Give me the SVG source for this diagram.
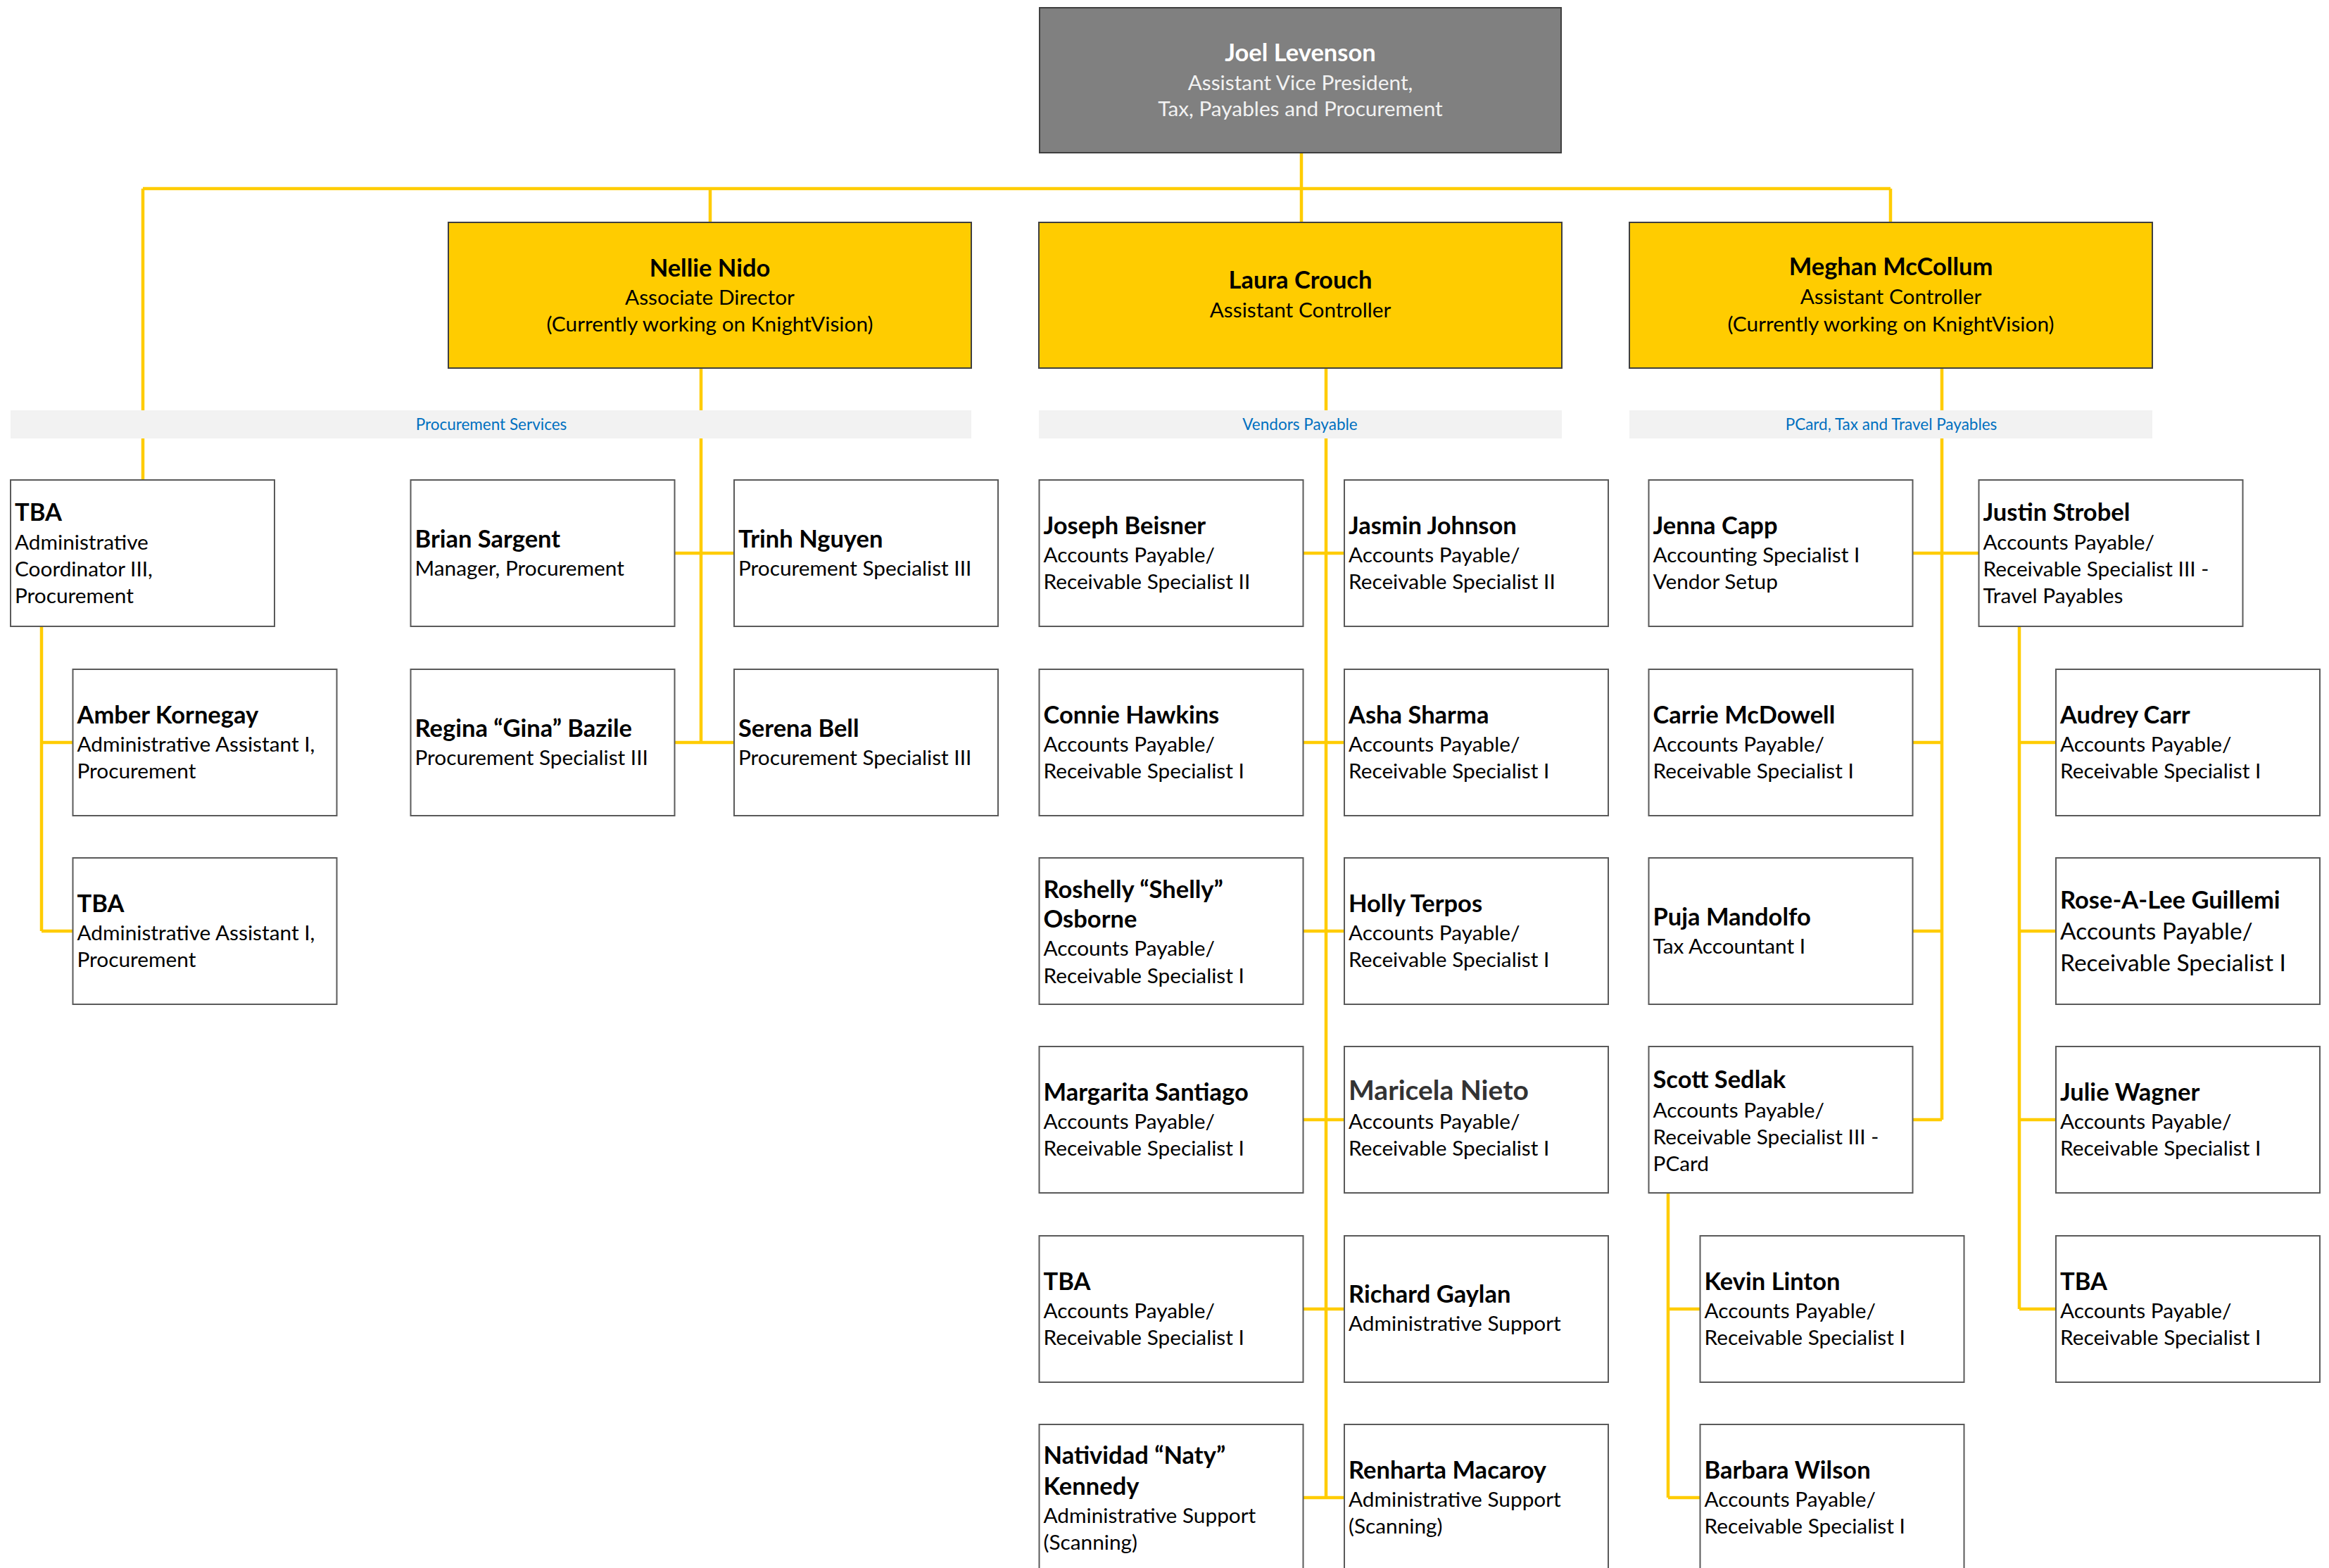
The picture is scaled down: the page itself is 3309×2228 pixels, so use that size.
<svg xmlns="http://www.w3.org/2000/svg" width="3309" height="2228" viewBox="0 0 3309 2228">
<style>
.bg{fill:#fff}
.box{fill:#fff;stroke:#5a5a5a;stroke-width:2}
.ybox{fill:#FFCC00;stroke:#3f3f3f;stroke-width:2}
.gbox{fill:#808080;stroke:#3f3f3f;stroke-width:2}
.band{fill:#F2F2F2}
.ln{stroke:#FFCC00;stroke-width:4.5;fill:none}
text{font-family:Lato,"Liberation Sans",sans-serif;fill:#000}
.n{font-weight:700;font-size:34.5px}
.t{font-size:29.8px}
.c{text-anchor:middle}
.w{fill:#fff}
.wt{fill:#f2f2f2}
.bt{font-size:22.5px;fill:#0070C0}
.big{font-size:33.5px}
.mn{font-size:39px;fill:#333}
</style>
<rect class="bg" x="0" y="0" width="3309" height="2228"/>
<g id="connectors">
<path class="ln" d="M1849 217V315M203 268H2686M203 268V682M1009 268V316M2686 268V315"/>
<path class="ln" d="M996 523V1055M959 786H1043M959 1055H1043"/>
<path class="ln" d="M59 891V1323M59 1055H103M59 1323H103"/>
<path class="ln" d="M1884 523V2128M1852 786H1910M1852 1055H1910M1852 1323H1910M1852 1591H1910M1852 1860H1910M1852 2128H1910"/>
<path class="ln" d="M2759 523V1591M2718 786H2811M2718 1055H2759M2718 1323H2759M2718 1591H2759"/>
<path class="ln" d="M2869 891V1860M2869 1055H2921M2869 1323H2921M2869 1591H2921M2869 1860H2921"/>
<path class="ln" d="M2370 1695V2128M2370 1860H2415M2370 2128H2415"/>
</g>
<g id="bands">
<rect class="band" x="15" y="583" width="1365" height="40"/>
<text class="bt c" x="698" y="611">Procurement Services</text>
<rect class="band" x="1476" y="583" width="743" height="40"/>
<text class="bt c" x="1847" y="611">Vendors Payable</text>
<rect class="band" x="2315" y="583" width="743" height="40"/>
<text class="bt c" x="2687" y="611">PCard, Tax and Travel Payables</text>
</g>
<g id="joel"><rect class="gbox" x="1477" y="11" width="741" height="206"/>
<text class="n c w" x="1847.5" y="87">Joel Levenson</text>
<text class="t c wt" x="1847.5" y="128">Assistant Vice President,</text>
<text class="t c wt" x="1847.5" y="165">Tax, Payables and Procurement</text></g>
<g id="nellie"><rect class="ybox" x="637" y="316" width="743" height="207"/>
<text class="n c" x="1008.5" y="393">Nellie Nido</text>
<text class="t c" x="1008.5" y="433">Associate Director</text>
<text class="t c" x="1008.5" y="470.5">(Currently working on KnightVision)</text></g>
<g id="laura"><rect class="ybox" x="1476" y="316" width="743" height="207"/>
<text class="n c" x="1847.5" y="410">Laura Crouch</text>
<text class="t c" x="1847.5" y="450.5">Assistant Controller</text></g>
<g id="meghan"><rect class="ybox" x="2315" y="316" width="743" height="207"/>
<text class="n c" x="2686.5" y="391">Meghan McCollum</text>
<text class="t c" x="2686.5" y="431.5">Assistant Controller</text>
<text class="t c" x="2686.5" y="470.5">(Currently working on KnightVision)</text></g>

<g id="tba-admin-coord"><rect class="box" x="15" y="682" width="375" height="208"/>
<text class="n" x="21" y="740">TBA</text>
<text class="t" x="21" y="781">Administrative</text>
<text class="t" x="21" y="819">Coordinator III,</text>
<text class="t" x="21" y="857">Procurement</text></g>
<g id="amber"><rect class="box" x="103.5" y="951" width="375" height="208"/>
<text class="n" x="109.5" y="1028">Amber Kornegay</text>
<text class="t" x="109.5" y="1068">Administrative Assistant I,</text>
<text class="t" x="109.5" y="1106">Procurement</text></g>
<g id="tba-admin-asst"><rect class="box" x="103.5" y="1219" width="375" height="208"/>
<text class="n" x="109.5" y="1296">TBA</text>
<text class="t" x="109.5" y="1336">Administrative Assistant I,</text>
<text class="t" x="109.5" y="1374">Procurement</text></g>
<g id="brian"><rect class="box" x="583.5" y="682" width="375" height="208"/>
<text class="n" x="589.5" y="778">Brian Sargent</text>
<text class="t" x="589.5" y="818">Manager, Procurement</text></g>
<g id="regina"><rect class="box" x="583.5" y="951" width="375" height="208"/>
<text class="n" x="589.5" y="1047">Regina “Gina” Bazile</text>
<text class="t" x="589.5" y="1087">Procurement Specialist III</text></g>
<g id="trinh"><rect class="box" x="1043" y="682" width="375" height="208"/>
<text class="n" x="1049" y="778">Trinh Nguyen</text>
<text class="t" x="1049" y="818">Procurement Specialist III</text></g>
<g id="serena"><rect class="box" x="1043" y="951" width="375" height="208"/>
<text class="n" x="1049" y="1047">Serena Bell</text>
<text class="t" x="1049" y="1087">Procurement Specialist III</text></g>

<g id="joseph"><rect class="box" x="1476.5" y="682" width="375" height="208"/>
<text class="n" x="1482.5" y="759">Joseph Beisner</text>
<text class="t" x="1482.5" y="799">Accounts Payable/</text>
<text class="t" x="1482.5" y="837">Receivable Specialist II</text></g>
<g id="jasmin"><rect class="box" x="1910" y="682" width="375" height="208"/>
<text class="n" x="1916" y="759">Jasmin Johnson</text>
<text class="t" x="1916" y="799">Accounts Payable/</text>
<text class="t" x="1916" y="837">Receivable Specialist II</text></g>
<g id="connie"><rect class="box" x="1476.5" y="951" width="375" height="208"/>
<text class="n" x="1482.5" y="1028">Connie Hawkins</text>
<text class="t" x="1482.5" y="1068">Accounts Payable/</text>
<text class="t" x="1482.5" y="1106">Receivable Specialist I</text></g>
<g id="asha"><rect class="box" x="1910" y="951" width="375" height="208"/>
<text class="n" x="1916" y="1028">Asha Sharma</text>
<text class="t" x="1916" y="1068">Accounts Payable/</text>
<text class="t" x="1916" y="1106">Receivable Specialist I</text></g>
<g id="roshelly"><rect class="box" x="1476.5" y="1219" width="375" height="208"/>
<text class="n" x="1482.5" y="1276">Roshelly “Shelly”</text>
<text class="n" x="1482.5" y="1318">Osborne</text>
<text class="t" x="1482.5" y="1358">Accounts Payable/</text>
<text class="t" x="1482.5" y="1397">Receivable Specialist I</text></g>
<g id="holly"><rect class="box" x="1910" y="1219" width="375" height="208"/>
<text class="n" x="1916" y="1296">Holly Terpos</text>
<text class="t" x="1916" y="1336">Accounts Payable/</text>
<text class="t" x="1916" y="1374">Receivable Specialist I</text></g>
<g id="margarita"><rect class="box" x="1476.5" y="1487" width="375" height="208"/>
<text class="n" x="1482.5" y="1564">Margarita Santiago</text>
<text class="t" x="1482.5" y="1604">Accounts Payable/</text>
<text class="t" x="1482.5" y="1642">Receivable Specialist I</text></g>
<g id="maricela"><rect class="box" x="1910" y="1487" width="375" height="208"/>
<text class="n mn" x="1916" y="1563">Maricela Nieto</text>
<text class="t" x="1916" y="1604">Accounts Payable/</text>
<text class="t" x="1916" y="1642">Receivable Specialist I</text></g>
<g id="tba-ap"><rect class="box" x="1476.5" y="1756" width="375" height="208"/>
<text class="n" x="1482.5" y="1833">TBA</text>
<text class="t" x="1482.5" y="1873">Accounts Payable/</text>
<text class="t" x="1482.5" y="1911">Receivable Specialist I</text></g>
<g id="richard"><rect class="box" x="1910" y="1756" width="375" height="208"/>
<text class="n" x="1916" y="1851">Richard Gaylan</text>
<text class="t" x="1916" y="1891">Administrative Support</text></g>
<g id="natividad"><rect class="box" x="1476.5" y="2024" width="375" height="208"/>
<text class="n" x="1482.5" y="2080">Natividad “Naty”</text>
<text class="n" x="1482.5" y="2124">Kennedy</text>
<text class="t" x="1482.5" y="2164">Administrative Support</text>
<text class="t" x="1482.5" y="2202">(Scanning)</text></g>
<g id="renharta"><rect class="box" x="1910" y="2024" width="375" height="208"/>
<text class="n" x="1916" y="2101">Renharta Macaroy</text>
<text class="t" x="1916" y="2141">Administrative Support</text>
<text class="t" x="1916" y="2179">(Scanning)</text></g>

<g id="jenna"><rect class="box" x="2342.5" y="682" width="375" height="208"/>
<text class="n" x="2348.5" y="759">Jenna Capp</text>
<text class="t" x="2348.5" y="799">Accounting Specialist I</text>
<text class="t" x="2348.5" y="837">Vendor Setup</text></g>
<g id="justin"><rect class="box" x="2811.5" y="682" width="375" height="208"/>
<text class="n" x="2817.5" y="740">Justin Strobel</text>
<text class="t" x="2817.5" y="781">Accounts Payable/</text>
<text class="t" x="2817.5" y="819">Receivable Specialist III -</text>
<text class="t" x="2817.5" y="857">Travel Payables</text></g>
<g id="carrie"><rect class="box" x="2342.5" y="951" width="375" height="208"/>
<text class="n" x="2348.5" y="1028">Carrie McDowell</text>
<text class="t" x="2348.5" y="1068">Accounts Payable/</text>
<text class="t" x="2348.5" y="1106">Receivable Specialist I</text></g>
<g id="audrey"><rect class="box" x="2921" y="951" width="375" height="208"/>
<text class="n" x="2927" y="1028">Audrey Carr</text>
<text class="t" x="2927" y="1068">Accounts Payable/</text>
<text class="t" x="2927" y="1106">Receivable Specialist I</text></g>
<g id="puja"><rect class="box" x="2342.5" y="1219" width="375" height="208"/>
<text class="n" x="2348.5" y="1315">Puja Mandolfo</text>
<text class="t" x="2348.5" y="1355">Tax Accountant I</text></g>
<g id="rose"><rect class="box" x="2921" y="1219" width="375" height="208"/>
<text class="n" x="2927" y="1291">Rose-A-Lee Guillemi</text>
<text class="t big" x="2927" y="1335">Accounts Payable/</text>
<text class="t big" x="2927" y="1380">Receivable Specialist I</text></g>
<g id="scott"><rect class="box" x="2342.5" y="1487" width="375" height="208"/>
<text class="n" x="2348.5" y="1546">Scott Sedlak</text>
<text class="t" x="2348.5" y="1588">Accounts Payable/</text>
<text class="t" x="2348.5" y="1626">Receivable Specialist III -</text>
<text class="t" x="2348.5" y="1664">PCard</text></g>
<g id="julie"><rect class="box" x="2921" y="1487" width="375" height="208"/>
<text class="n" x="2927" y="1564">Julie Wagner</text>
<text class="t" x="2927" y="1604">Accounts Payable/</text>
<text class="t" x="2927" y="1642">Receivable Specialist I</text></g>
<g id="kevin"><rect class="box" x="2415.5" y="1756" width="375" height="208"/>
<text class="n" x="2421.5" y="1833">Kevin Linton</text>
<text class="t" x="2421.5" y="1873">Accounts Payable/</text>
<text class="t" x="2421.5" y="1911">Receivable Specialist I</text></g>
<g id="tba-ar"><rect class="box" x="2921" y="1756" width="375" height="208"/>
<text class="n" x="2927" y="1833">TBA</text>
<text class="t" x="2927" y="1873">Accounts Payable/</text>
<text class="t" x="2927" y="1911">Receivable Specialist I</text></g>
<g id="barbara"><rect class="box" x="2415.5" y="2024" width="375" height="208"/>
<text class="n" x="2421.5" y="2101">Barbara Wilson</text>
<text class="t" x="2421.5" y="2141">Accounts Payable/</text>
<text class="t" x="2421.5" y="2179">Receivable Specialist I</text></g>
</svg>
